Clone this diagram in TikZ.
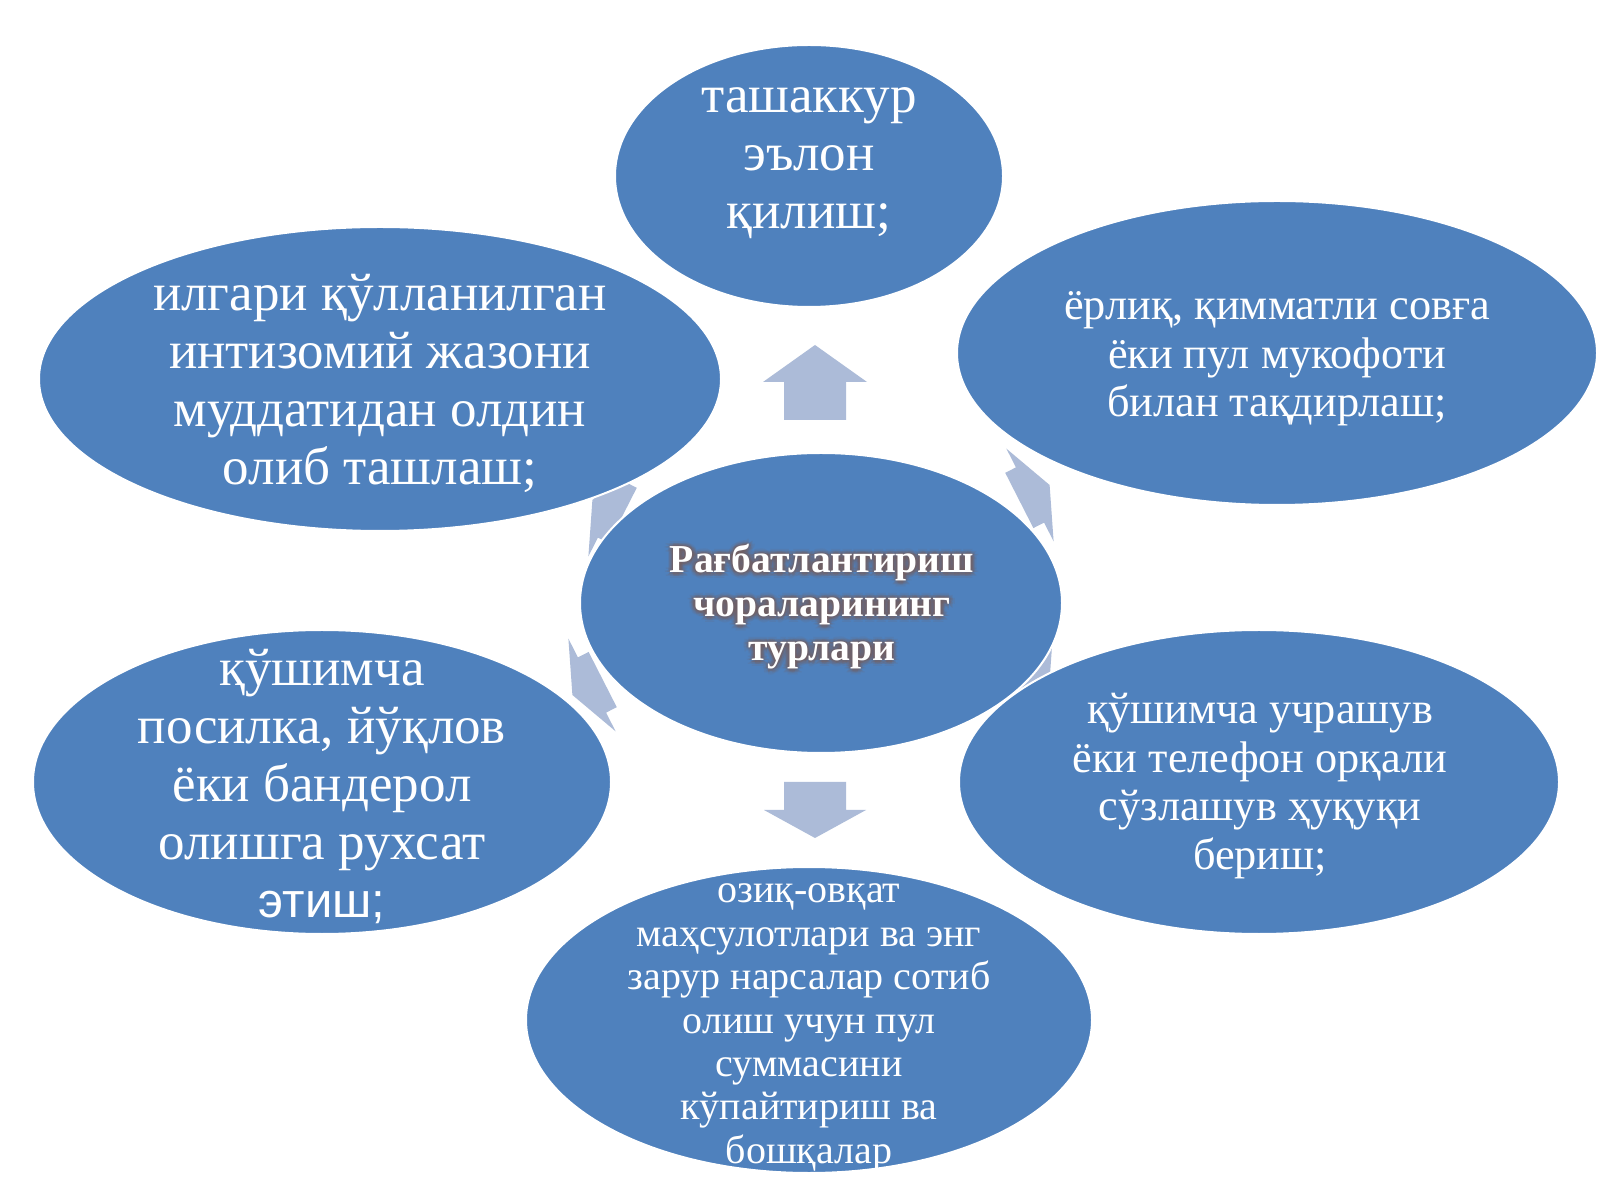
\documentclass[tikz,border=0pt]{standalone}
\usepackage{fontspec}
\setmainfont{Liberation Serif}
\newfontfamily\sansf{Liberation Sans}
\definecolor{ellblue}{RGB}{79,129,189}
\definecolor{arrcol}{RGB}{172,187,216}
\definecolor{glowc}{RGB}{120,95,92}
% block arrow pointing along +x: x, y, angle, shaft length, head length
\newcommand\blockarr[5]{%
  \fill[arrcol, shift={(#1,#2)}, rotate=#3]
    (-#4,-31) -- (0,-31) -- (0,-52) -- (#5,0) -- (0,52) -- (0,31) -- (-#4,31) -- cycle;}
\newcommand\ctxt{Рағбатлантириш\\чораларининг\\турлари}
\begin{document}
\begin{tikzpicture}[x=1pt,y=1pt,
  ell/.style={fill=ellblue, draw=white, line width=2pt},
  big/.style={text=white, align=center, inner sep=0pt, font=\fontsize{53}{58}\selectfont},
  mid/.style={text=white, align=center, inner sep=0pt, font=\fontsize{44.3}{48.5}\selectfont},
  sml/.style={text=white, align=center, inner sep=0pt, font=\fontsize{40}{43.4}\selectfont},
  ctr/.style={align=center, inner sep=0pt, font=\bfseries\fontsize{39.6}{44}\selectfont}]
\useasboundingbox (0,0) rectangle (1600,1200);
\fill[white] (0,0) rectangle (1600,1200);
% arrows (behind the ellipses)
\fill[arrcol] (784,780) -- (846,780) -- (846,818) -- (867,818) -- (815,855) coordinate (utip) -- (763,818) -- (784,818) -- cycle;
\fill[arrcol] (784,418) -- (846,418) -- (846,390) -- (866,390) -- (815,362) coordinate (dtip) -- (764,390) -- (784,390) -- cycle;
\blockarr{1030}{705}{27}{12}{22}
\blockarr{612}{690}{153}{12}{22}
\blockarr{1030}{530}{-27}{12}{22}
\blockarr{592}{515}{207}{12}{22}
% ellipses
\draw[ell] (821,597) coordinate (cc) ellipse [x radius=241, y radius=150];
\draw[ell] (809,1024) coordinate (ct) ellipse [x radius=194, y radius=131];
\draw[ell] (380,821) coordinate (ctl) ellipse [x radius=341, y radius=152];
\draw[ell] (1277,847) coordinate (ctr) ellipse [x radius=320, y radius=152];
\draw[ell] (322,418) coordinate (clb) ellipse [x radius=289, y radius=152];
\draw[ell] (1259,418) coordinate (crb) ellipse [x radius=300, y radius=152];
\draw[ell] (809,180) coordinate (cb) ellipse [x radius=283, y radius=153];
% texts
\node[big] (tt) at (809,1037) {ташаккур\\эълон\\қилиш;};
\node[big] (ttl) at (380,817) {илгари қўлланилган\\интизомий жазони\\муддатидан олдин\\олиб ташлаш;};
\node[mid] (ttr) at (1277,841) {ёрлиқ, қимматли совға\\ёки пул мукофоти\\билан тақдирлаш;};
\node[big] (tlb) at (322,414) {қўшимча\\посилка, йўқлов\\ёки бандерол\\олишга рухсат\\{\sansf\fontsize{49}{58}\selectfont этиш;}};
\node[mid] (trb) at (1260,414) {қўшимча учрашув\\ёки телефон орқали\\сўзлашув ҳуқуқи\\бериш;};
\node[sml] (tb) at (809,172) {озиқ-овқат\\маҳсулотлари ва энг\\зарур нарсалар сотиб\\олиш учун пул\\суммасини\\кўпайтириш ва\\бошқалар};
\foreach \r/\o in {5.5/0.12,3.5/0.16,1.8/0.18}{
  \foreach \a in {0,45,...,315}{
    \node[ctr, text=glowc, opacity=\o] at ([shift={(\a:\r)}]822,593) {\ctxt};
  }
}
\node[ctr, text=white] (tc) at (822,593) {\ctxt};
\end{tikzpicture}
\end{document}
